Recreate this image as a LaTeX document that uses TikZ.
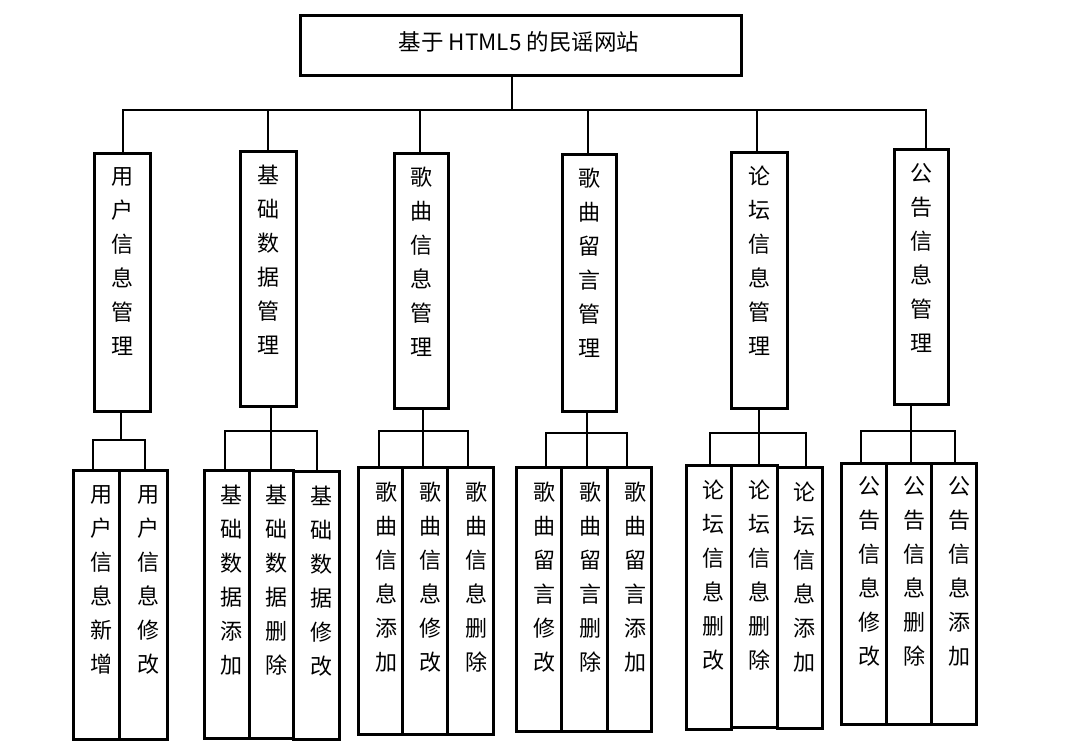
\documentclass[tikz,border=0pt]{standalone}
\usepackage{fontspec}
\newfontfamily\cjk{Noto Sans CJK SC}
\usetikzlibrary{calc}
\tikzset{
  box/.style={draw, line width=2.6pt, inner sep=0pt, anchor=north west},
  vt/.style={anchor=north, align=center, inner sep=0pt, font=\cjk\fontsize{22}{34}\selectfont},
  conn/.style={line width=2.1pt},
}
\begin{document}
\begin{tikzpicture}[x=1pt,y=-1pt]
\useasboundingbox[fill=white] (0,0) rectangle (1073,751);
% title
\node[box, minimum width=441, minimum height=60] (top) at (299,14) {};
\node[inner sep=0pt, font=\cjk\fontsize{22.5}{26}\selectfont] (toptxt) at (519,42) {基于 HTML5 的民谣网站};
% level 2
\node[box, minimum width=56, minimum height=258] (m1) at (93,152) {};
\node[box, minimum width=56, minimum height=255] (m2) at (239,150) {};
\node[box, minimum width=54, minimum height=255] (m3) at (393,152) {};
\node[box, minimum width=54, minimum height=257] (m4) at (561,153) {};
\node[box, minimum width=56, minimum height=256] (m5) at (730,151) {};
\node[box, minimum width=54, minimum height=255] (m6) at (893,148) {};
\node[vt, yshift=-15pt] (m1t) at (m1.north) {用\\户\\信\\息\\管\\理};
\node[vt, yshift=-15pt] (m2t) at (m2.north) {基\\础\\数\\据\\管\\理};
\node[vt, yshift=-15pt] (m3t) at (m3.north) {歌\\曲\\信\\息\\管\\理};
\node[vt, yshift=-15pt] (m4t) at (m4.north) {歌\\曲\\留\\言\\管\\理};
\node[vt, yshift=-15pt] (m5t) at (m5.north) {论\\坛\\信\\息\\管\\理};
\node[vt, yshift=-15pt] (m6t) at (m6.north) {公\\告\\信\\息\\管\\理};
% top connectors
\coordinate (j0) at (512,110);
\coordinate (d1) at (123,110);
\coordinate (d2) at (268,110);
\coordinate (d3) at (420,110);
\coordinate (d4) at (588,110);
\coordinate (d5) at (757,110);
\coordinate (d6) at (926,110);
\draw[conn] (j0 |- top.south) -- (j0);
\draw[conn] (d1 |- m1.north) -- (d1) -- (d6) -- (d6 |- m6.north);
\draw[conn] (d2) -- (d2 |- m2.north);
\draw[conn] (d3) -- (d3 |- m3.north);
\draw[conn] (d4) -- (d4 |- m4.north);
\draw[conn] (d5) -- (d5 |- m5.north);
% leaves group 1
\node[box, minimum width=46, minimum height=269] (a1) at (72,469) {};
\node[box, minimum width=48, minimum height=269] (a2) at (118,469) {};
\node[vt, xshift=5pt, yshift=-16pt] (a1t) at (a1.north) {用\\户\\信\\息\\新\\增};
\node[vt, xshift=5pt, yshift=-16pt] (a2t) at (a2.north) {用\\户\\信\\息\\修\\改};
% group 2
\node[box, minimum width=45, minimum height=268] (b1) at (203,469) {};
\node[box, minimum width=44, minimum height=268] (b2) at (248,469) {};
\node[box, minimum width=46, minimum height=268] (b3) at (292,470) {};
\node[vt, xshift=5pt, yshift=-16pt] (b1t) at (b1.north) {基\\础\\数\\据\\添\\加};
\node[vt, xshift=5pt, yshift=-16pt] (b2t) at (b2.north) {基\\础\\数\\据\\删\\除};
\node[vt, xshift=5pt, yshift=-16pt] (b3t) at (b3.north) {基\\础\\数\\据\\修\\改};
% group 3
\node[box, minimum width=44, minimum height=267] (c1) at (357,466) {};
\node[box, minimum width=45, minimum height=267] (c2) at (401,466) {};
\node[box, minimum width=46, minimum height=267] (c3) at (446,466) {};
\node[vt, xshift=6pt, yshift=-16pt] (c1t) at (c1.north) {歌\\曲\\信\\息\\添\\加};
\node[vt, xshift=6pt, yshift=-16pt] (c2t) at (c2.north) {歌\\曲\\信\\息\\修\\改};
\node[vt, xshift=6pt, yshift=-16pt] (c3t) at (c3.north) {歌\\曲\\信\\息\\删\\除};
% group 4
\node[box, minimum width=45, minimum height=264] (e1) at (515,466) {};
\node[box, minimum width=46, minimum height=264] (e2) at (560,466) {};
\node[box, minimum width=44, minimum height=264] (e3) at (606,466) {};
\node[vt, xshift=6pt, yshift=-16pt] (e1t) at (e1.north) {歌\\曲\\留\\言\\修\\改};
\node[vt, xshift=6pt, yshift=-16pt] (e2t) at (e2.north) {歌\\曲\\留\\言\\删\\除};
\node[vt, xshift=6pt, yshift=-16pt] (e3t) at (e3.north) {歌\\曲\\留\\言\\添\\加};
% group 5
\node[box, minimum width=45, minimum height=264] (f1) at (685,464) {};
\node[box, minimum width=46, minimum height=262] (f2) at (730,464) {};
\node[box, minimum width=45, minimum height=261] (f3) at (776,466) {};
\node[vt, xshift=5pt, yshift=-16pt] (f1t) at (f1.north) {论\\坛\\信\\息\\删\\改};
\node[vt, xshift=5pt, yshift=-16pt] (f2t) at (f2.north) {论\\坛\\信\\息\\删\\除};
\node[vt, xshift=5pt, yshift=-16pt] (f3t) at (f3.north) {论\\坛\\信\\息\\添\\加};
% group 6
\node[box, minimum width=45, minimum height=261] (g1) at (840,462) {};
\node[box, minimum width=45, minimum height=261] (g2) at (885,462) {};
\node[box, minimum width=45, minimum height=261] (g3) at (930,462) {};
\node[vt, xshift=6pt, yshift=-14pt] (g1t) at (g1.north) {公\\告\\信\\息\\修\\改};
\node[vt, xshift=6pt, yshift=-14pt] (g2t) at (g2.north) {公\\告\\信\\息\\删\\除};
\node[vt, xshift=6pt, yshift=-14pt] (g3t) at (g3.north) {公\\告\\信\\息\\添\\加};
% group connectors
\coordinate (k1) at (121,440);
\draw[conn] (k1 |- m1.south) -- (k1);
\draw[conn] (a1.north -| 93,0) |- (k1) -| (a2.north -| 145,0);
\coordinate (k2) at (271,431);
\draw[conn] (k2 |- m2.south) -- (k2 |- b2.north);
\draw[conn] (b1.north -| 225,0) |- (k2) -| (b3.north -| 317,0);
\coordinate (k3) at (423,431);
\draw[conn] (k3 |- m3.south) -- (k3 |- c2.north);
\draw[conn] (c1.north -| 379,0) |- (k3) -| (c3.north -| 468,0);
\coordinate (k4) at (587,433);
\draw[conn] (k4 |- m4.south) -- (k4 |- e2.north);
\draw[conn] (e1.north -| 546,0) |- (k4) -| (e3.north -| 627,0);
\coordinate (k5) at (759,433);
\draw[conn] (k5 |- m5.south) -- (k5 |- f2.north);
\draw[conn] (f1.north -| 710,0) |- (k5) -| (f3.north -| 806,0);
\coordinate (k6) at (911,431);
\draw[conn] (k6 |- m6.south) -- (k6 |- g2.north);
\draw[conn] (g1.north -| 861,0) |- (k6) -| (g3.north -| 955,0);
\end{tikzpicture}
\end{document}
